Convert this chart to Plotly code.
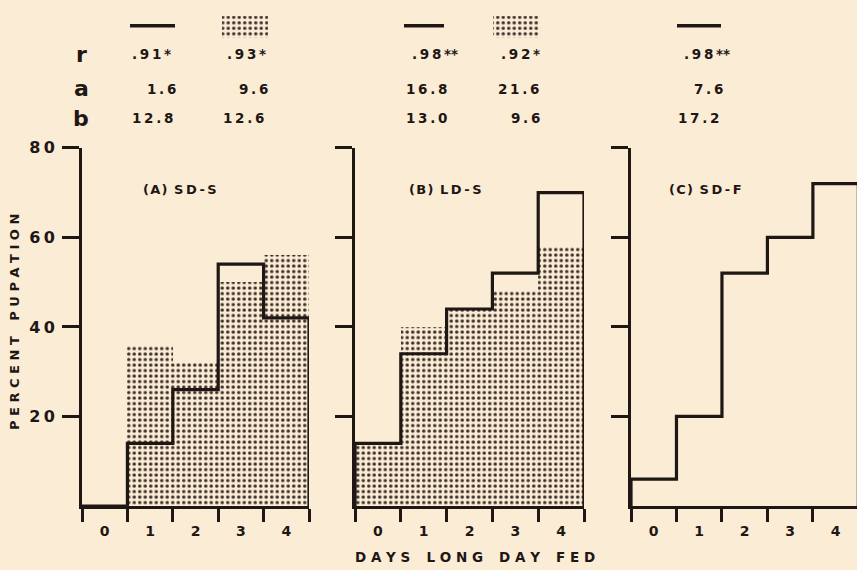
import plotly.graph_objects as go

W, H = 857, 570
BG = "#FBECD6"
INK = "#1E1714"
DOT = "#3A302A"
FONT = "DejaVu Sans"

# ---------------- data ----------------
days = [0, 1, 2, 3, 4]
panel_titles = ["(A) SD-S", "(B) LD-S", "(C) SD-F"]

a_solid = [0, 14, 26, 54, 42]
a_stipple = [0, 36, 32, 50, 56]
b_solid = [14, 34, 44, 52, 70]
b_stipple = [14, 40, 44, 48, 58]
c_solid = [6, 20, 52, 60, 72]

y_ticks = [20, 40, 60, 80]

row_labels = ["r", "a", "b"]
a_solid_stats = [".91*", "1.6", "12.8"]
a_stipple_stats = [".93*", "9.6", "12.6"]
b_solid_stats = [".98**", "16.8", "13.0"]
b_stipple_stats = [".92*", "21.6", "9.6"]
c_solid_stats = [".98**", "7.6", "17.2"]

# ---------------- layout helpers ----------------
def px(x):
    return x / W

def py(y):
    return 1 - y / H

def spaced(s, sep="\u2009"):
    return sep.join(list(s))

def stat_text(s):
    stars = s.count("*")
    core = s.replace("*", "")
    t = spaced(core, "\u2009")
    if stars:
        t += "\u2009" + "*" * stars
    return t

panels = [
    dict(solid=a_solid, stipple=a_stipple, x0=82, x1=309, xmax=4.5, labels=True),
    dict(solid=b_solid, stipple=b_stipple, x0=355, x1=584, xmax=4.5, labels=False),
    dict(solid=c_solid, stipple=None, x0=631, x1=857, xmax=4.47, labels=False),
]
Y0, Y1 = 505, 141

PATTERN = dict(shape=".", fgcolor=DOT, bgcolor=BG, size=5.5, solidity=0.3, fillmode="replace")

fig = go.Figure()
edges = [d - 0.5 for d in days] + [days[-1] + 0.5]

for i, p in enumerate(panels, start=1):
    xa = "x" if i == 1 else f"x{i}"
    ya = "y" if i == 1 else f"y{i}"
    if p["stipple"] is not None:
        fig.add_trace(go.Bar(
            x=days, y=p["stipple"], width=1.0, xaxis=xa, yaxis=ya,
            marker=dict(color=BG, line=dict(width=0), pattern=PATTERN),
            showlegend=False, hoverinfo="skip"))
    vals = p["solid"]
    xs = [edges[0]] + edges[:-1] + [edges[-1], edges[-1]]
    ys = [0] + vals + [vals[-1], 0]
    fig.add_trace(go.Scatter(
        x=xs, y=ys, mode="lines", line=dict(color=INK, width=3.2, shape="hv"),
        xaxis=xa, yaxis=ya, cliponaxis=False, showlegend=False, hoverinfo="skip"))

    xkey = "xaxis" if i == 1 else f"xaxis{i}"
    ykey = "yaxis" if i == 1 else f"yaxis{i}"
    fig.layout[xkey] = dict(
        domain=[px(p["x0"]), px(p["x1"])], range=[-0.5, p["xmax"]], anchor=ya,
        showgrid=False, zeroline=False, showline=True, linewidth=3, linecolor=INK,
        tickmode="array", tickvals=days, ticktext=[str(d) for d in days], ticks="",
        ticklabelstandoff=10,
        tickfont=dict(family=FONT, size=14, color=INK, weight=700),
        minor=dict(tickmode="array", tickvals=edges, ticks="outside",
                   ticklen=13, tickwidth=3, tickcolor=INK, showgrid=False),
        fixedrange=True)
    fig.layout[ykey] = dict(
        domain=[py(Y0), py(Y1)], range=[0, 80], anchor=xa,
        showgrid=False, zeroline=False, showline=True, linewidth=3, linecolor=INK,
        tickmode="array", tickvals=y_ticks,
        ticktext=[spaced(str(t), "\u2009") for t in y_ticks],
        ticks="outside", ticklen=17, tickwidth=3, tickcolor=INK,
        showticklabels=p["labels"], ticklabelstandoff=4,
        tickfont=dict(family=FONT, size=16, color=INK, weight=700),
        fixedrange=True)

annotations = []

def txt(x, y, s, size=13, angle=0, xanchor="center"):
    annotations.append(dict(
        x=px(x), y=py(y), xref="paper", yref="paper", text=s, showarrow=False,
        xanchor=xanchor, yanchor="middle", textangle=angle,
        font=dict(family=FONT, size=size, color=INK, weight=700)))

# panel titles
for x, t in zip([180, 445, 705], panel_titles):
    parts = t.split(" ")
    txt(x, 183, spaced(parts[0], "\u200a") + "\u2002" + spaced(parts[1], "\u2009"), size=13)

# axis titles
txt(15, 318, "P E R C E N T \u2002 P U P A T I O N", size=13, angle=-90)
txt(475, 557, "D A Y S \u2002 L O N G \u2002 D A Y \u2002 F E D", size=13.5)

# stats table
row_y = [46, 81, 111]
for lab, y in zip(row_labels, row_y):
    txt(81, y, lab, size=22)

cols = [
    (a_solid_stats, [151, 161, 152]),
    (a_stipple_stats, [246, 253, 244]),
    (b_solid_stats, [435, 426, 426]),
    (b_stipple_stats, [520, 518, 525]),
    (c_solid_stats, [707, 708, 698]),
]
for stats, xs in cols:
    for s, x, y in zip(stats, xs, row_y):
        txt(x, y, stat_text(s), size=13.5)

fig.update_layout(annotations=annotations)

# legend swatches (solid line and stipple block) on a hidden pixel-space axis
fig.layout["xaxis9"] = dict(domain=[0, 1], range=[0, W], visible=False, fixedrange=True, anchor="y9")
fig.layout["yaxis9"] = dict(domain=[0, 1], range=[H, 0], visible=False, fixedrange=True, anchor="x9")
for (x0, x1) in [(130, 175), (404, 444), (677, 721)]:
    fig.add_trace(go.Scatter(x=[x0, x1], y=[17, 17], mode="lines",
                             line=dict(color=INK, width=3.5), xaxis="x9", yaxis="y9",
                             showlegend=False, hoverinfo="skip"))
for (x0, x1) in [(222, 268), (493, 540)]:
    fig.add_trace(go.Scatter(x=[x0, x1, x1, x0, x0], y=[7, 7, 29, 29, 7], mode="lines",
                             line=dict(width=0), fill="toself", fillcolor=BG,
                             fillpattern=PATTERN,
                             xaxis="x9", yaxis="y9", showlegend=False, hoverinfo="skip"))

fig.update_layout(
    width=W, height=H, margin=dict(l=0, r=0, t=0, b=0),
    paper_bgcolor=BG, plot_bgcolor="rgba(0,0,0,0)",
    bargap=0, showlegend=False,
)

fig.write_html(
    "out.html", config={"displayModeBar": False},
    post_script="document.body.style.margin='0';document.body.style.background='%s';" % BG,
)
